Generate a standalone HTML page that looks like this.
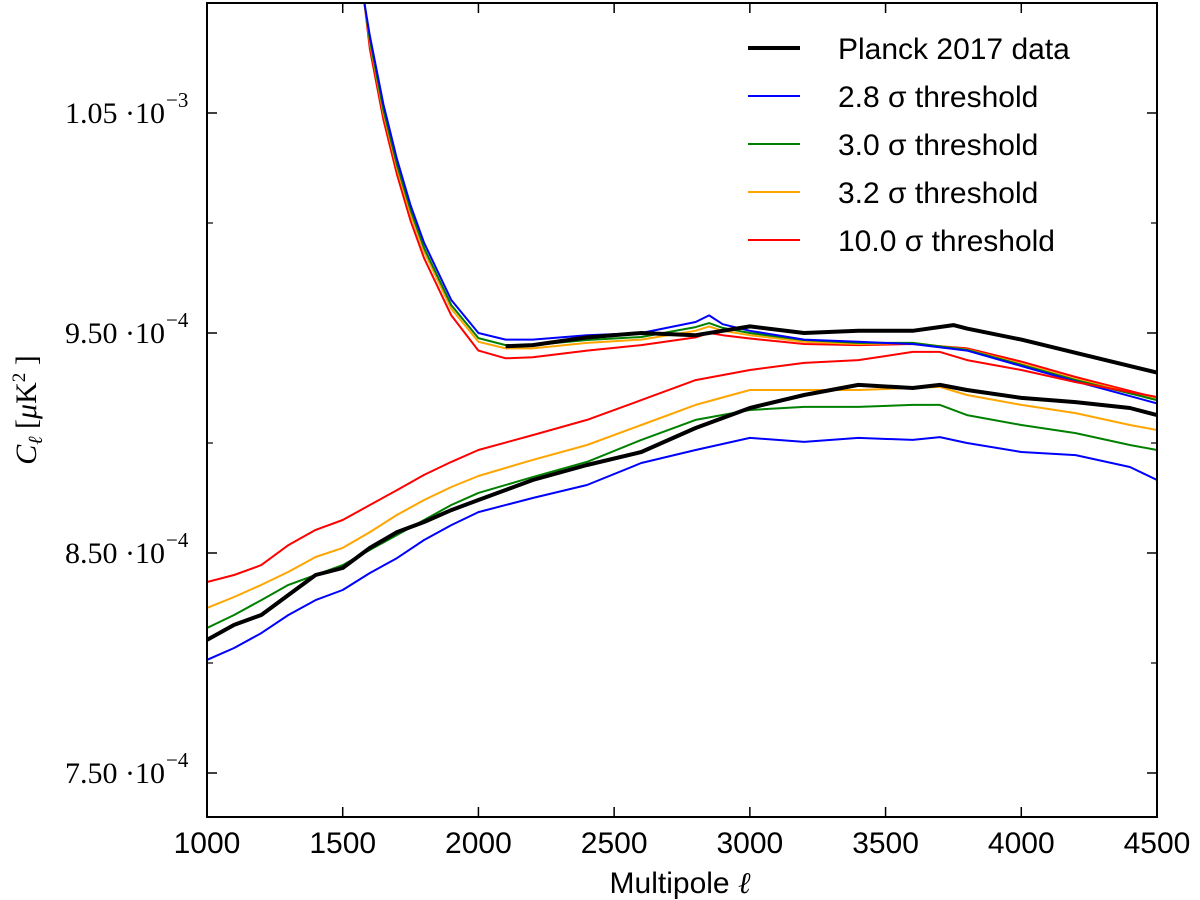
<!DOCTYPE html>
<html><head><meta charset="utf-8"><style>
body{margin:0;background:#fff}
svg{display:block}
text{font-family:"Liberation Sans",sans-serif}
.ser{font-family:"Liberation Serif",serif}
</style></head><body>
<svg id="chart" width="1200" height="900">
<g id="lines"></g>
<rect x="207" y="3" width="950" height="814" fill="none" stroke="#000" stroke-width="2"/>
<g id="ticks"></g>
<text x="680" y="893" font-size="30" text-anchor="middle">Multipole <tspan class="ser" font-style="italic">ℓ</tspan></text>
<text transform="translate(36,410) rotate(-90)" font-size="30" text-anchor="middle" class="ser"><tspan font-style="italic">C</tspan><tspan font-style="italic" font-size="20" dy="6">ℓ</tspan><tspan dy="-6"> [</tspan><tspan font-style="italic">μ</tspan>K<tspan font-size="19" dy="-11">2</tspan><tspan dy="11"> ]</tspan></text>
<g id="legend"></g>
</svg>
<script>
const lUpper=[1580,1600,1650,1700,1750,1800,1900,2000,2100,2200,2400,2600,2800,2850,2900,3000,3200,3400,3600,3800,4000,4200,4500];
const blueUpper=[1100,1085,1054,1029,1008,991,965,950,947,947,949,950,955,958,954,951,947,946,945,942,935,928,918];
const greenUpper=[1100,1083.2,1051.4,1026.4,1005.9,988.6,962.7,947.7,944.5,944.5,946.8,948.2,952.7,954.5,952.3,950,946.8,945.5,945.5,942.3,935.5,928.6,919.5];
const orangeUpper=[1100,1082,1050,1025,1004,987,961,946,943,943,945.5,947,951,953,951,949,946,945,945.5,942.5,936,929,920];
const redUpper=[1100,1079,1047,1022,1001,984,958,942,938.5,939,942,944.5,948,950,949,947.5,945,944.5,945,943,937,930,920.5];
const lBlackUpper=[2100,2200,2400,2600,2800,3000,3200,3400,3600,3750,3800,4000,4200,4500];
const blackUpper=[944,944.5,948,950,949,953,950,951,951,953.6,952,947,941,932];
const lLower=[1000,1100,1200,1300,1400,1500,1600,1700,1800,1900,2000,2200,2400,2600,2800,3000,3200,3400,3600,3700,3800,4000,4200,4400,4500];
const redLower=[836.8,840,844.5,853.6,860.5,865,871.8,878.6,885.5,891.4,896.8,903.6,910.5,919.5,928.6,933.2,936.4,937.7,941.4,941.4,937.7,933.2,927.7,923.2,920.9];
const orangeLower=[825,830,835.5,841.4,848.2,852.3,859.5,867.3,874.1,880,885,892.3,899.1,908.2,917.3,924.1,924.1,924.1,925,925.5,921.8,917.3,913.6,908.2,905.9];
const greenLower=[815.9,821.8,828.6,835.5,840,844.5,851.4,858.2,865,871.8,877.3,884.5,891.4,901.4,910.5,915,916.4,916.4,917.3,917.3,912.7,908.2,904.5,899.1,896.8];
const blueLower=[801.4,806.8,813.6,821.8,828.6,833.2,840.9,847.7,855.9,862.7,868.6,875,880.9,890.9,896.8,902.3,900.5,902.3,901.4,902.7,900,895.9,894.5,889.1,883.2];
const blackLower=[810.5,817.3,821.8,830.9,840,843.2,852.3,859.5,864.1,869.5,874.1,883.2,890,895.9,906.8,915.9,921.8,926.4,925,926.4,924.1,920.5,918.6,915.9,912.7];
const xTicks=[1000,1500,2000,2500,3000,3500,4000,4500];
const yMajor=[1050,950,850,750];
const yMajorLabels=["1.05","9.50","8.50","7.50"];
const yMajorExp=["−3","−4","−4","−4"];
const yMinor=[1000,900,800];
const legendLabels=["Planck 2017 data","2.8 σ threshold","3.0 σ threshold","3.2 σ threshold","10.0 σ threshold"];
const legendColors=["#000","#0000ff","#008000","#ffa500","#ff0000"];

const NS="http://www.w3.org/2000/svg";
const X=l=>207+(l-1000)*950/3500;
const Y=v=>333-(v-950)*2.2;
function mk(tag,attrs,parent){const e=document.createElementNS(NS,tag);for(const k in attrs)e.setAttribute(k,attrs[k]);parent.appendChild(e);return e;}
const gL=document.getElementById('lines');
const clip=mk('clipPath',{id:'cp'},document.getElementById('chart'));
mk('rect',{x:207,y:3,width:950,height:814},clip);
gL.setAttribute('clip-path','url(#cp)');
function series(ls,vs,color,w,name){
  const d=ls.map((l,i)=>(i?'L':'M')+X(l).toFixed(1)+','+Y(vs[i]).toFixed(1)).join(' ');
  const p=mk('path',{d:d,fill:'none',stroke:color,'stroke-width':w,'stroke-linejoin':'round'},gL);
  
  
}
series(lUpper,redUpper,'#ff0000',2,'red-upper-line');
series(lUpper,orangeUpper,'#ffa500',2,'orange-upper-line');
series(lUpper,greenUpper,'#008000',2,'green-upper-line');
series(lUpper,blueUpper,'#0000ff',2,'blue-upper-line');
series(lLower,redLower,'#ff0000',2,'red-lower-line');
series(lLower,orangeLower,'#ffa500',2,'orange-lower-line');
series(lLower,greenLower,'#008000',2,'green-lower-line');
series(lLower,blueLower,'#0000ff',2,'blue-lower-line');
series(lBlackUpper,blackUpper,'#000',4,'black-upper-line');
series(lLower,blackLower,'#000',4,'black-lower-line');

const gT=document.getElementById('ticks');
xTicks.forEach(t=>{
  const x=X(t);
  mk('line',{x1:x,x2:x,y1:817,y2:807,stroke:'#000','stroke-width':1.5},gT);
  mk('line',{x1:x,x2:x,y1:3,y2:13,stroke:'#000','stroke-width':1.5},gT);
  const tx=mk('text',{x:x,y:853,'font-size':30,'text-anchor':'middle'},gT);
  tx.textContent=t;
  
  
});
yMajor.forEach((v,i)=>{
  const y=Y(v);
  mk('line',{x1:207,x2:217,y1:y,y2:y,stroke:'#000','stroke-width':1.5},gT);
  mk('line',{x1:1157,x2:1147,y1:y,y2:y,stroke:'#000','stroke-width':1.5},gT);
  const tx=mk('text',{x:165,y:y+10,'font-size':30,'text-anchor':'end','class':'ser'},gT);
  tx.textContent=yMajorLabels[i]+' ·10';
  
  
  const ex=mk('text',{x:166,y:y-6,'font-size':21,'class':'ser'},gT);
  ex.textContent=yMajorExp[i];
  
  
});
yMinor.forEach(v=>{
  const y=Y(v);
  mk('line',{x1:207,x2:213,y1:y,y2:y,stroke:'#000','stroke-width':1.2},gT);
  mk('line',{x1:1157,x2:1151,y1:y,y2:y,stroke:'#000','stroke-width':1.2},gT);
});

const gLeg=document.getElementById('legend');
legendLabels.forEach((lab,i)=>{
  const y=48+i*48;
  const ln=mk('line',{x1:748,x2:800,y1:y,y2:y,stroke:legendColors[i],'stroke-width':i?2:4},gLeg);
  
  
  const tx=mk('text',{x:838,y:y+11,'font-size':30},gLeg);
  tx.textContent=lab;
  
  
});
</script>
</body></html>
